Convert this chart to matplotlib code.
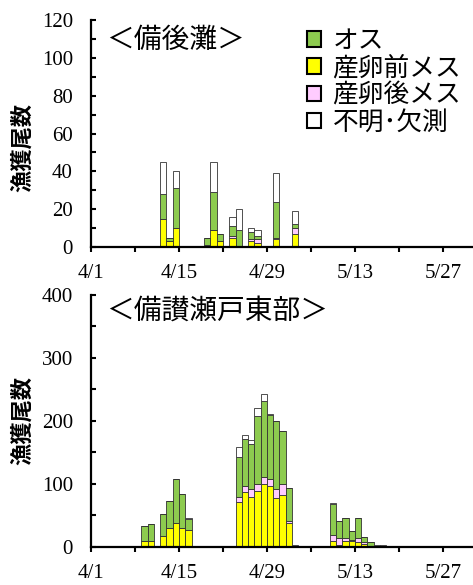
import matplotlib
matplotlib.use("Agg")
import matplotlib.pyplot as plt
import numpy as np
from matplotlib.patches import Patch
from matplotlib.ticker import MultipleLocator

plt.rcParams["font.family"] = ["Noto Sans CJK JP", "DejaVu Sans"]

# ---- data ----
top_dates = ["4/12", "4/13", "4/14", "4/19", "4/20", "4/21", "4/23", "4/24",
             "4/26", "4/27", "4/30", "5/3"]
top_pre = [15, 3, 10, 0, 9, 3, 5, 0, 3, 2, 4, 7]
top_post = [0, 0, 0, 1, 0, 0, 1, 0, 1, 2, 1, 3]
top_male = [13, 2, 21, 4, 20, 4, 5, 9, 4, 2, 19, 2]
top_unk = [17, 0, 9, 0, 16, 0, 5, 11, 2, 3, 15, 7]

bot_dates = ["4/9", "4/10", "4/12", "4/13", "4/14", "4/15", "4/16", "4/19",
             "4/24", "4/25", "4/26", "4/27", "4/28", "4/29", "4/30", "5/1",
             "5/2", "5/3", "5/9", "5/10", "5/11", "5/12", "5/13", "5/14",
             "5/15", "5/16", "5/17", "5/24", "5/25", "5/28"]
bot_pre = [8, 8, 16, 29, 38, 29, 27, 0, 70, 86, 78, 88, 99, 97, 77, 82,
           38, 0, 9, 3, 8, 8, 7, 4, 0, 0, 0, 0, 0, 0]
bot_post = [0, 0, 0, 0, 0, 0, 0, 0, 9, 11, 14, 11, 11, 11, 14, 17,
            2, 1, 10, 10, 5, 3, 7, 3, 0, 0, 0, 0, 0, 0]
bot_male = [24, 28, 36, 43, 70, 55, 17, 1, 63, 74, 71, 108, 121, 101, 108, 84,
            53, 0, 49, 27, 32, 14, 31, 8, 7, 0, 0, 1, 1, 1]
bot_unk = [0, 0, 0, 0, 0, 0, 1, 0, 17, 7, 7, 14, 12, 1, 1, 0,
           0, 2, 1, 0, 0, 0, 0, 0, 0, 3, 3, 0, 0, 0]

tick_labels = ["4/1", "4/15", "4/29", "5/13", "5/27"]
labels = ["オス", "産卵前メス", "産卵後メス", "不明･欠測"]
colors = {"male": "#8DCB4F", "pre": "#FFFF00", "post": "#FFCCFF", "unk": "#FFFFFF"}


def day_index(s):
    m, d = (int(v) for v in s.split("/"))
    return (d - 1) if m == 4 else 30 + d - 1


def draw_panel(ax, dates, pre, post, male, unk, ymax, major, title, title_y):
    x = np.array([day_index(s) for s in dates])
    pre, post, male, unk = (np.asarray(a, float) for a in (pre, post, male, unk))
    kw = dict(width=1.0, align="edge", edgecolor="#333333", linewidth=0.6)
    ax.bar(x, pre, color=colors["pre"], **kw)
    ax.bar(x, post, bottom=pre, color=colors["post"], **kw)
    ax.bar(x, male, bottom=pre + post, color=colors["male"], **kw)
    ax.bar(x, unk, bottom=pre + post + male, color=colors["unk"], **kw)

    ax.set_xlim(0, 60.8)
    ax.set_ylim(0, ymax)
    ax.set_xticks(range(0, 57, 7))
    ax.set_xticklabels([lab if i % 2 == 0 else "" for i, lab in
                        enumerate(np.repeat(tick_labels, 2)[:9])])
    ax.yaxis.set_major_locator(MultipleLocator(major))
    ax.yaxis.set_minor_locator(MultipleLocator(major / 2))
    for sp in ("top", "right"):
        ax.spines[sp].set_visible(False)
    for sp in ("left", "bottom"):
        ax.spines[sp].set_linewidth(1.6)
    ax.tick_params(axis="x", direction="out", length=3.5, width=1.5, pad=9)
    ax.tick_params(axis="y", which="both", direction="in", length=3.5,
                   width=1.5, pad=13)
    for t in ax.get_xticklabels() + ax.get_yticklabels():
        t.set_fontfamily("Liberation Serif")
        t.set_fontsize(15)
    ax.text(0.04, title_y, title, transform=ax.transAxes, fontsize=20,
            ha="left", va="center")
    ax.set_ylabel("漁獲尾数", fontsize=16, fontweight="bold")
    ax.yaxis.label.set_verticalalignment("center")


fig = plt.figure(figsize=(4.73, 5.85), dpi=100)
ax1 = fig.add_axes([91 / 473, 1 - 247 / 585, 382 / 473, 227 / 585])
ax2 = fig.add_axes([91 / 473, 1 - 546.5 / 585, 382 / 473, 251.5 / 585])

draw_panel(ax1, top_dates, top_pre, top_post, top_male, top_unk, 120, 20,
           "＜備後灘＞", 0.912)
draw_panel(ax2, bot_dates, bot_pre, bot_post, bot_male, bot_unk, 400, 100,
           "＜備讃瀬戸東部＞", 0.938)
ax1.yaxis.set_label_coords(-69 / 382, 100 / 227)
ax2.yaxis.set_label_coords(-69 / 382, 0.5)

handles = [Patch(facecolor=colors[k], edgecolor="black", linewidth=1.5)
           for k in ("male", "pre", "post", "unk")]
ax1.legend(handles, labels, loc="upper left", bbox_to_anchor=(0.565, 0.965),
           frameon=False, fontsize=18.5, handlelength=0.55, handleheight=0.55,
           handletextpad=0.45, labelspacing=0.05, borderpad=0, borderaxespad=0)

fig.savefig("out.png", dpi=100)
